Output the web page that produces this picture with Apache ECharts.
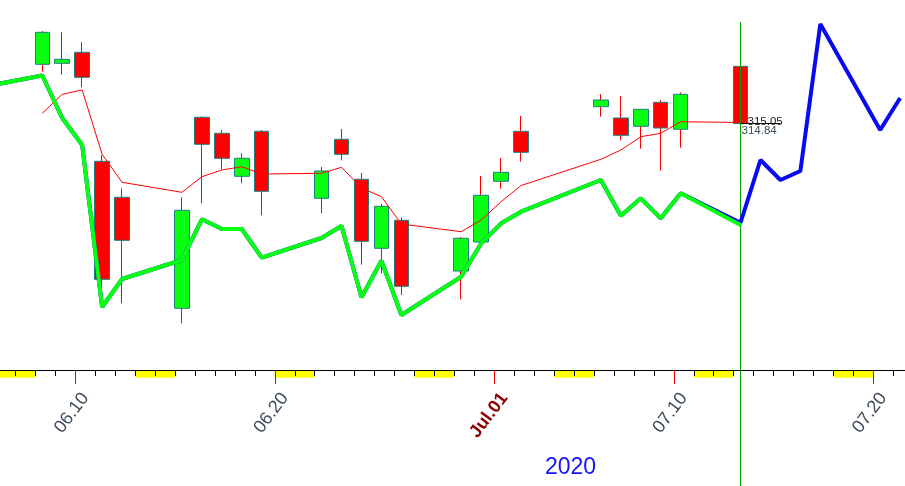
<!DOCTYPE html>
<html>
<head>
<meta charset="utf-8">
<script src="https://cdn.jsdelivr.net/npm/echarts@6/dist/echarts.min.js"></script>
<style>html,body{margin:0;padding:0;background:#fff}#c{width:905px;height:486px}</style>
</head>
<body>
<div id="c"></div>
<script>
// ---- data (2020) ----
const tradingDays = ['06-08','06-09','06-10','06-11','06-12','06-15','06-16','06-17','06-18','06-19','06-22','06-23','06-24','06-25','06-26','06-29','06-30','07-01','07-02','07-06','07-07','07-08','07-09','07-10','07-13'];
const openP  = [320.77,320.87,321.97,311.07,307.47,296.37,315.47,313.87,309.57,314.07,307.37,313.27,309.27,302.37,305.17,300.10,303.00,309.07,314.07,316.53,315.40,314.57,316.97,314.27,320.57];
const closeP = [323.97,321.27,319.47,299.27,303.17,306.17,312.77,311.37,311.37,308.07,310.10,311.77,303.07,306.57,298.57,303.37,307.67,309.97,311.97,317.20,313.67,316.27,314.40,317.77,314.84];
const lowP   = [320.03,319.73,318.47,298.47,296.87,294.87,306.87,310.27,308.87,305.67,305.87,311.17,300.73,299.87,297.70,297.27,302.95,308.33,311.03,315.53,313.17,312.33,310.13,312.43,314.80];
const highP  = [324.10,323.97,323.00,311.70,308.37,307.47,315.57,314.20,311.87,314.20,310.50,314.30,309.90,306.80,305.43,303.50,309.60,311.40,315.60,317.80,317.60,316.27,317.20,317.97,320.57];
const maP    = [315.87,317.77,318.20,311.77,308.97,307.97,309.53,310.20,310.53,309.80,309.87,310.47,308.40,307.53,304.80,304.03,305.20,307.03,308.65,311.27,312.20,313.53,313.87,315.03,314.95];

const historyDays = ['06-05'].concat(tradingDays);
const historyP = [318.50,319.65,315.40,312.70,296.50,299.30,301.20,305.27,304.30,304.30,301.43,303.40,304.60,297.47,301.13,295.70,299.53,302.87,304.87,306.03,309.20,305.63,307.37,305.37,307.87,304.70];
const forecastDays = historyDays.concat(['07-14','07-15','07-16','07-17','07-20','07-21']);
const forecastP = [318.50,319.65,315.40,312.70,296.50,299.30,301.20,305.27,304.30,304.30,301.43,303.40,304.60,297.47,301.13,295.70,299.53,302.87,304.87,306.03,309.20,305.63,307.37,305.37,307.87,304.93,311.20,309.20,310.10,324.80,314.20,317.40];

const tickDays   = ['06-10','06-20','07-01','07-10','07-20'];
const tickLabels = ['06.10','06.20','Jul.01','07.10','07.20'];
const markDay = '07-13';
const lastMA = 315.05;
const lastClose = 314.84;
const yearLabel = '2020';

// ---- calendar categories ----
const cal = [], weekend = [];
for (let d = new Date(Date.UTC(2020,5,5)); d <= new Date(Date.UTC(2020,6,21)); d.setUTCDate(d.getUTCDate()+1)) {
  const k = String(d.getUTCMonth()+1).padStart(2,'0') + '-' + String(d.getUTCDate()).padStart(2,'0');
  cal.push(k);
  const wd = d.getUTCDay();
  weekend.push(wd === 0 || wd === 6 ? 1 : '-');
}
function mapTo(days, vals) {
  return cal.map(c => { const i = days.indexOf(c); return i < 0 ? '-' : vals[i]; });
}
const wickData = cal.map(c => { const i = tradingDays.indexOf(c); return i < 0 ? ['-','-','-','-'] : [openP[i], closeP[i], lowP[i], highP[i]]; });
const bodyData = cal.map(c => { const i = tradingDays.indexOf(c); return i < 0 ? ['-','-','-','-'] : [openP[i], closeP[i], Math.min(openP[i],closeP[i]), Math.max(openP[i],closeP[i])]; });

const FONT = '"Liberation Sans", Arial, sans-serif';
const tickFn = (idx, val) => tickDays.indexOf(val) >= 0;

const gA = {left:-27.55, right:-5.1};
const gB = {left:-24.45, right:-8.2};

const chart = echarts.init(document.getElementById('c'));
chart.setOption({
  animation: false,
  backgroundColor: '#fff',
  title: {text: yearLabel, left: 545, top: 456, padding: 0,
    textStyle: {color:'#1414ff', fontSize: 23, fontWeight:'normal', fontFamily: FONT}},
  grid: [
    {left:gA.left, right:gA.right, top:22, bottom:116, outerBoundsMode:'none', containLabel:false},
    {left:gB.left, right:gB.right, top:22, bottom:116, outerBoundsMode:'none', containLabel:false},
    {left:gB.left, right:gB.right, top:370, bottom:108.3, outerBoundsMode:'none', containLabel:false},
    {left:gA.left, right:gA.right, top:22, bottom:0, outerBoundsMode:'none', containLabel:false}
  ],
  xAxis: [
    {gridIndex:0, type:'category', data:cal, show:false},
    {gridIndex:1, type:'category', data:cal, position:'bottom', z:10,
      axisLine:{show:true, lineStyle:{color:'#000', width:1}},
      axisTick:{show:true, interval:0, length:6, lineStyle:{color:'#000', width:1}},
      axisLabel:{show:false}, splitLine:{show:false}},
    {gridIndex:1, type:'category', data:cal, position:'bottom', z:11,
      axisLine:{show:false},
      axisTick:{show:true, interval:tickFn, length:14, lineStyle:{color:'#ee0000', width:1}},
      axisLabel:{show:true, interval:tickFn, rotate:53, margin:25, fontSize:18, fontFamily:FONT, color:'#3c4a5a',
        formatter: v => { const i = tickDays.indexOf(v); const t = tickLabels[i]; return v.endsWith('-01') ? '{m|' + t + '}' : t; },
        rich: {m:{color:'#8b0000', fontWeight:'bold', fontSize:18, fontFamily:FONT}}},
      splitLine:{show:false}},
    {gridIndex:2, type:'category', data:cal, show:false},
    {gridIndex:3, type:'category', data:cal, show:false}
  ],
  yAxis: [
    {gridIndex:0, type:'value', min:290.2, max:325, show:false, splitLine:{show:false}},
    {gridIndex:1, type:'value', min:0, max:1, show:false, splitLine:{show:false}},
    {gridIndex:2, type:'value', min:0, max:1, show:false, splitLine:{show:false}},
    {gridIndex:3, type:'value', min:0, max:1, show:false, splitLine:{show:false}}
  ],
  series: [
    {type:'bar', xAxisIndex:3, yAxisIndex:2, data:weekend, barWidth:'100%', barCategoryGap:'0%',
      itemStyle:{color:'#ffff00'}, silent:true, z:1},
    {type:'candlestick', xAxisIndex:0, yAxisIndex:0, data:wickData, barWidth:1, z:2, silent:true,
      itemStyle:{color:'#ff0000', color0:'#ff0000', borderColor:'#ff0000', borderColor0:'#ff0000', borderColorDoji:'#ff0000', borderWidth:1}},
    {type:'candlestick', xAxisIndex:0, yAxisIndex:0, data:bodyData, barWidth:15, z:3, silent:true,
      itemStyle:{color:'#08ff12', color0:'#ff0000', borderColor:'#1d7f80', borderColor0:'#1d7f80', borderColorDoji:'#1d7f80', borderWidth:1},
      markLine:{silent:true, symbol:['none','none'], label:{show:false}, z:6,
        lineStyle:{color:'#000', width:1, type:'solid'},
        data:[[{coord:[markDay, lastClose]}, {coord:['07-15', lastClose]}]]},
      markPoint:{silent:true, symbol:'rect', symbolSize:0, z:7,
        data:[
          {coord:[markDay, lastMA], label:{show:true, formatter:String(lastMA.toFixed(2)), position:'right', distance:5, offset:[2,0], color:'#222', fontSize:11.5, fontFamily:FONT}},
          {coord:[markDay, lastClose], label:{show:true, formatter:String(lastClose.toFixed(2)), position:'right', distance:5, offset:[-4,7.5], color:'#3c4a5a', fontSize:11.5, fontFamily:FONT}}
        ]}},
    {type:'line', xAxisIndex:0, yAxisIndex:0, data:mapTo(tradingDays, maP), connectNulls:true, symbol:'none', z:4, silent:true,
      lineStyle:{color:'#ff0000', width:1}},
    {type:'line', xAxisIndex:0, yAxisIndex:0, data:mapTo(forecastDays, forecastP), connectNulls:true, symbol:'none', z:5, silent:true,
      lineStyle:{color:'#0a0af0', width:4}},
    {type:'line', xAxisIndex:0, yAxisIndex:0, data:mapTo(historyDays, historyP), connectNulls:true, symbol:'none', z:6, silent:true,
      lineStyle:{color:'#08ff12', width:4}},
    {type:'line', xAxisIndex:4, yAxisIndex:3, data:cal.map(() => '-'), symbol:'none', z:8, silent:true,
      markLine:{silent:true, symbol:['none','none'], label:{show:false},
        lineStyle:{color:'#00a000', width:1, type:'solid', opacity:1},
        data:[{xAxis:markDay}]}}
  ]
});
</script>
</body>
</html>
